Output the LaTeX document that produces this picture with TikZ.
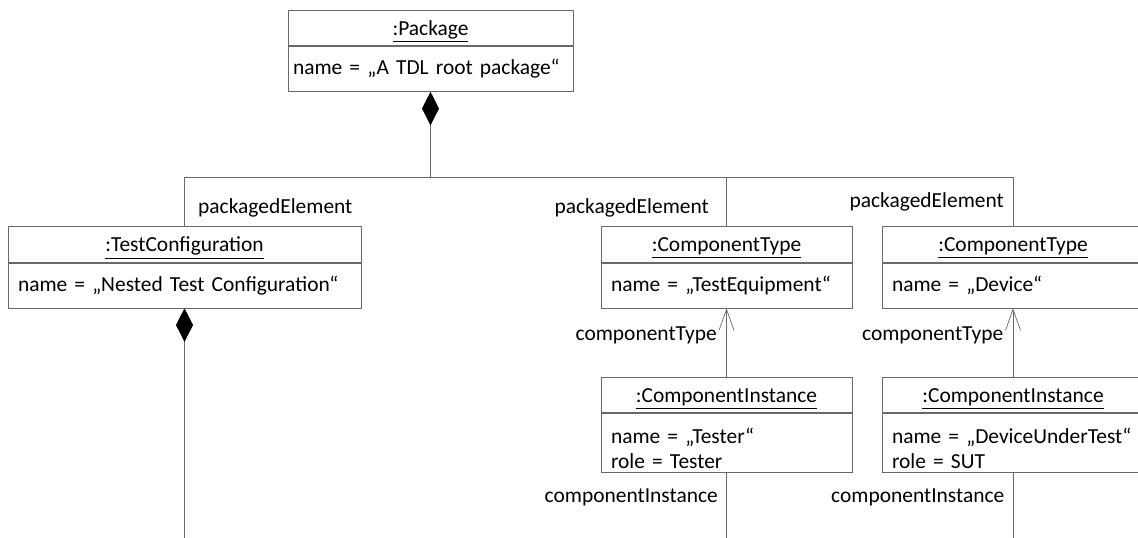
\documentclass[tikz,border=0pt]{standalone}
\usepackage{fontspec}
\setmainfont{Carlito}
\usepackage{tikz}
\usetikzlibrary{arrows.meta,calc,positioning}
\definecolor{linegray}{RGB}{105,105,105}
\tikzset{%
	objhead/.style = {draw=linegray, minimum width=#1, minimum height=0.71cm, inner sep=0pt, text height=1.0em, text depth=0.17em},
	objbody/.style = {draw=linegray, text width=#1, inner xsep=0.2cm, minimum height=0.9cm, align=left},
	comp/.style    = {draw=linegray, {Diamond[color=black,length=0.67cm,width=0.34cm]}-},
	nav/.style     = {draw=linegray, -{Straight Barb[color=linegray,length=0.42cm,width=0.3cm]}},
	link/.style    = {draw=linegray},
}

\begin{document}
\begin{tikzpicture}[font=\fontsize{12.2}{14.2}\selectfont]
	\useasboundingbox (0,0) rectangle (22.76,-10.74);
	% root package
	\node[objhead=5.7cm] (pkgh) at (8.61,-0.56) {\underline{:Package}};
	\node[objbody=5.5cm, inner xsep=0.1cm, below=0pt of pkgh] (pkg) {name = „A TDL root package“};
	% packaged elements
	\node[objhead=7.06cm] (tch) at (3.69,-4.89) {\underline{:TestConfiguration}};
	\node[objbody=6.66cm, below=0pt of tch] (tc) {name = „Nested Test Configuration“};
	\node[objhead=5.02cm] (ct1h) at (14.53,-4.89) {\underline{:ComponentType}};
	\node[objbody=4.62cm, below=0pt of ct1h] (ct1) {name = „TestEquipment“};
	\node[objhead=5.24cm] (ct2h) at (20.26,-4.89) {\underline{:ComponentType}};
	\node[objbody=4.84cm, below=0pt of ct2h] (ct2) {name = „Device“};
	% component instances
	\node[objhead=5.02cm] (ci1h) at (14.53,-7.9) {\underline{:ComponentInstance}};
	\node[objbody=4.62cm, minimum height=1.18cm, inner ysep=0.05cm, text height=0.52cm, below=0pt of ci1h] (ci1) {name = „Tester“\\ role = Tester};
	\node[objhead=5.24cm] (ci2h) at (20.26,-7.9) {\underline{:ComponentInstance}};
	\node[objbody=4.84cm, minimum height=1.18cm, inner ysep=0.05cm, text height=0.52cm, below=0pt of ci2h] (ci2) {name = „DeviceUnderTest“\\ role = SUT};
	% connectors
	\coordinate (bus) at (8.61,-3.54);
	\coordinate (tcend) at (3.69,-11);
	\coordinate (ci1end) at (14.53,-11);
	\coordinate (ci2end) at (20.26,-11);
	\draw[comp] (pkg.south) -- (bus);
	\draw[link] (bus) -| (tch.north) node[pos=0.81, anchor=west, xshift=0.15cm] {packagedElement};
	\draw[link] (bus) -| (ct1h.north) node[pos=0.81, anchor=east, xshift=-0.23cm] {packagedElement};
	\draw[link] (bus) -| (ct2h.north) node[pos=0.75, anchor=east, xshift=-0.06cm] {packagedElement};
	\draw[comp] (tc.south) -- (tcend);
	\draw[nav] (ci1h.north) -- (ct1.south) node[pos=0.6, anchor=east, xshift=-0.07cm] {componentType};
	\draw[nav] (ci2h.north) -- (ct2.south) node[pos=0.6, anchor=east, xshift=-0.07cm] {componentType};
	\draw[link] (ci1.south) -- (ci1end) node[pos=0.32, anchor=east, xshift=-0.05cm] {componentInstance};
	\draw[link] (ci2.south) -- (ci2end) node[pos=0.32, anchor=east, xshift=-0.05cm] {componentInstance};
\end{tikzpicture}
\end{document}
